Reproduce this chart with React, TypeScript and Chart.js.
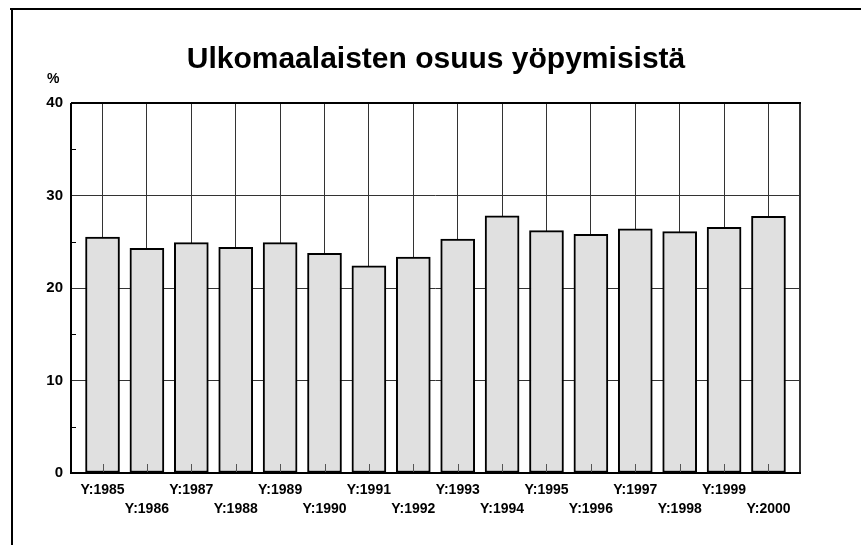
import React, { useEffect, useRef } from 'react';
import { Chart, registerables } from 'chart.js';

Chart.register(...registerables);

const title = 'Ulkomaalaisten osuus yöpymisistä';
const unitLabel = '%';
const years = ['1985', '1986', '1987', '1988', '1989', '1990', '1991', '1992', '1993', '1994', '1995', '1996', '1997', '1998', '1999', '2000'];
const values = [25.5, 24.3, 24.9, 24.4, 24.9, 23.75, 22.4, 23.35, 25.3, 27.8, 26.2, 25.8, 26.4, 26.1, 26.55, 27.75];
const yTicks = [0, 10, 20, 30, 40];
const yMinorTicks = [5, 15, 25, 35];

const FONT = '"Liberation Sans", Arial, sans-serif';

const decorPlugin = {
  id: 'decor',
  afterDatasetsDraw(chart: any) {
    const { ctx, chartArea, scales } = chart;
    const x = scales.x;
    const y = scales.y;
    ctx.save();
    // small inner ticks at bottom of each category
    ctx.strokeStyle = '#555';
    ctx.lineWidth = 1;
    years.forEach((_, i) => {
      const px = Math.round(x.getPixelForValue(i)) + 0.5;
      ctx.beginPath();
      ctx.moveTo(px, chartArea.bottom);
      ctx.lineTo(px, chartArea.bottom - 9);
      ctx.stroke();
    });
    // minor y ticks
    ctx.strokeStyle = '#000';
    yMinorTicks.forEach((v) => {
      const py = Math.round(y.getPixelForValue(v)) + 0.5;
      ctx.beginPath();
      ctx.moveTo(chartArea.left, py);
      ctx.lineTo(chartArea.left + 5, py);
      ctx.stroke();
    });
    // plot frame
    ctx.strokeStyle = '#333';
    ctx.lineWidth = 2;
    ctx.beginPath();
    ctx.moveTo(chartArea.right, chartArea.top);
    ctx.lineTo(chartArea.right, chartArea.bottom);
    ctx.stroke();
    ctx.strokeStyle = '#000';
    ctx.lineWidth = 2;
    ctx.beginPath();
    ctx.moveTo(chartArea.left, chartArea.top);
    ctx.lineTo(chartArea.right + 1, chartArea.top);
    ctx.moveTo(chartArea.left, chartArea.top);
    ctx.lineTo(chartArea.left, chartArea.bottom);
    ctx.moveTo(chartArea.left - 1, chartArea.bottom);
    ctx.lineTo(chartArea.right + 1, chartArea.bottom);
    ctx.stroke();
    ctx.restore();
  },
  afterDraw(chart: any) {
    const { ctx } = chart;
    ctx.save();
    // outer frame (top and left only)
    ctx.fillStyle = '#000';
    ctx.fillRect(10, 8, chart.width - 10, 2);
    ctx.fillRect(11, 8, 2, chart.height - 8);
    // title
    ctx.fillStyle = '#000';
    ctx.font = `bold 30px ${FONT}`;
    ctx.textAlign = 'center';
    ctx.textBaseline = 'alphabetic';
    ctx.fillText(title, 436, 68);
    // unit label
    ctx.font = `bold 14px ${FONT}`;
    ctx.textAlign = 'left';
    ctx.textBaseline = 'middle';
    ctx.fillText(unitLabel, 47, 79);
    ctx.restore();
  },
};

export default function App() {
  const ref = useRef<HTMLCanvasElement | null>(null);
  useEffect(() => {
    if (!ref.current) return;
    const chart = new Chart(ref.current, {
      type: 'bar',
      data: {
        datasets: [
          {
            data: values.map((v, i) => ({ x: i, y: v })),
            backgroundColor: '#e0e0e0',
            borderColor: '#000',
            borderWidth: 2,
            borderSkipped: false,
            barThickness: 34,
          } as any,
        ],
      },
      options: {
        animation: false,
        responsive: false,
        devicePixelRatio: 1,
        layout: { padding: { top: 103, right: 61, left: 0, bottom: 0 } },
        plugins: {
          legend: { display: false },
          title: { display: false },
          tooltip: { enabled: false },
        },
        scales: {
          x: {
            type: 'linear',
            min: -0.71,
            max: 15.71,
            offset: false,
            afterBuildTicks: (scale: any) => {
              scale.ticks = years.map((_, i) => ({ value: i }));
            },
            afterFit: (scale: any) => {
              scale.height = 72;
            },
            border: { display: false },
            grid: { color: '#333', lineWidth: 1, drawTicks: false, offset: false },
            ticks: {
              autoSkip: false,
              maxRotation: 0,
              minRotation: 0,
              padding: 8,
              color: '#000',
              font: { family: FONT, size: 14, weight: 'bold', lineHeight: 1.33 },
              callback: (v: any) => {
                const i = Math.round(Number(v));
                const lab = 'Y:' + years[i];
                return i % 2 === 0 ? lab : ['', lab];
              },
            },
          } as any,
          y: {
            min: 0,
            max: 40,
            afterBuildTicks: (scale: any) => {
              scale.ticks = yTicks.map((v) => ({ value: v }));
            },
            afterFit: (scale: any) => {
              scale.width = 71;
            },
            border: { display: false },
            grid: {
              drawTicks: false,
              lineWidth: 1,
              color: (c: any) => (c.tick && (c.tick.value === 0 || c.tick.value === 40) ? 'rgba(0,0,0,0)' : '#333'),
            },
            ticks: {
              padding: 8,
              color: '#000',
              font: { family: FONT, size: 15, weight: 'bold' },
            },
          } as any,
        },
      },
      plugins: [decorPlugin],
    });
    return () => chart.destroy();
  }, []);
  return (
    <div style={{ position: 'absolute', left: 0, top: 0, width: 861, height: 545, background: '#fff' }}>
      <canvas ref={ref} width={861} height={545} style={{ display: 'block' }} />
    </div>
  );
}
